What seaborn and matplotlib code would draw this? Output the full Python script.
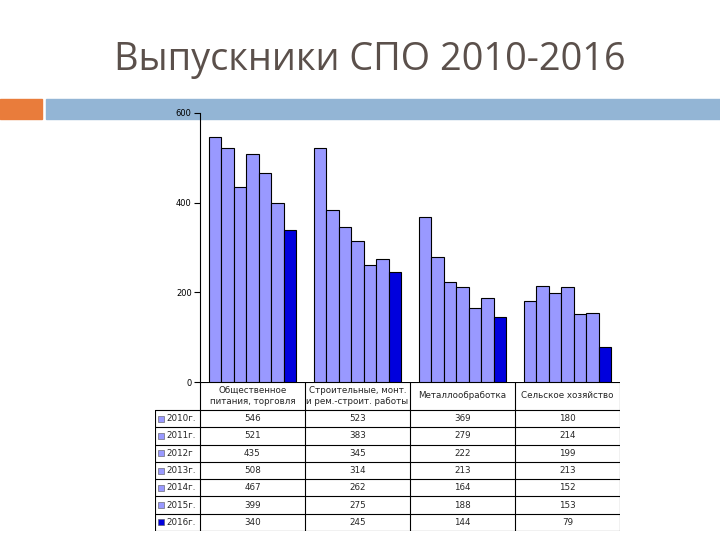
import matplotlib
matplotlib.use("Agg")
import matplotlib.pyplot as plt
import seaborn as sns
import pandas as pd
from matplotlib.patches import Rectangle

categories = ["Общественное\nпитания, торговля",
              "Строительные, монт.\nи рем.-строит. работы",
              "Металлообработка",
              "Сельское хозяйство"]
years = ["2010г.", "2011г.", "2012г", "2013г.", "2014г.", "2015г.", "2016г."]
v2010 = [546, 523, 369, 180]
v2011 = [521, 383, 279, 214]
v2012 = [435, 345, 222, 199]
v2013 = [508, 314, 213, 213]
v2014 = [467, 262, 164, 152]
v2015 = [399, 275, 188, 153]
v2016 = [340, 245, 144, 79]
series = [v2010, v2011, v2012, v2013, v2014, v2015, v2016]
yticks = [0, 200, 400, 600]

light = "#9999FF"
dark = "#0000DD"
palette = [light] * 6 + [dark]

rows = []
for y, vals in zip(years, series):
    for c, v in zip(categories, vals):
        rows.append({"cat": c, "year": y, "value": v})
df = pd.DataFrame(rows)

sns.set_theme(style="white")
plt.rcParams['font.family'] = ['DejaVu Sans']

W, H = 720, 540
fig = plt.figure(figsize=(7.2, 5.4), dpi=100)

def fx(px):
    return px / W

def fy(py):
    return 1 - py / H

# decorative header bands
fig.patches.append(Rectangle((fx(0), fy(119)), fx(42), 20 / H, transform=fig.transFigure,
                             color="#E97C3B", zorder=0))
fig.patches.append(Rectangle((fx(46), fy(119)), fx(720 - 46), 20 / H, transform=fig.transFigure,
                             color="#93B5D5", zorder=0))
fig.text(0.5 + fx(10), fy(60), "Выпускники СПО 2010-2016", ha="center", va="center",
         fontsize=27.3, color="#5B504B", family=["Open Sans", "DejaVu Sans"])

# chart axes
x0, x1 = 200, 620
ytop, ybot = 113, 382
ax = fig.add_axes([fx(x0), fy(ybot), fx(x1 - x0), (ybot - ytop) / H])
ax.set_zorder(3)
ax.patch.set_alpha(0)
sns.barplot(data=df, x="cat", y="value", hue="year", palette=palette, ax=ax,
            order=categories, hue_order=years, width=0.83, edgecolor="black",
            linewidth=0.8, legend=False, saturation=1)
ax.set_ylim(0, 600)
ax.set_xlim(-0.5, len(categories) - 0.5)
ax.set_yticks(yticks)
ax.set_yticklabels([str(t) for t in yticks], fontsize=6, color="black")
ax.set_xticks([])
ax.set_xlabel("")
ax.set_ylabel("")
for s in ["top", "right", "bottom"]:
    ax.spines[s].set_visible(False)
ax.spines["left"].set_color("black")
ax.spines["left"].set_linewidth(0.8)
ax.tick_params(axis="y", left=True, length=4, width=0.8, color="black", pad=2, direction="out")

# data table
tx0, tx1 = 155, 620
ty0, thead, ty1 = 382, 410, 531
tab = fig.add_axes([fx(tx0), fy(ty1), fx(tx1 - tx0), (ty1 - ty0) / H])
tab.set_xlim(tx0, tx1)
tab.set_ylim(ty1, ty0)
tab.axis("off")
colw = (x1 - x0) / len(categories)
rowh = (ty1 - thead) / len(years)
lw = 0.8
tab.plot([x0, x1], [ty0, ty0], color="black", lw=lw)
tab.plot([tx0, x1], [thead, thead], color="black", lw=lw)
tab.plot([tx0, x1], [ty1, ty1], color="black", lw=lw)
tab.plot([tx0, tx0], [thead, ty1], color="black", lw=lw)
for i in range(len(categories) + 1):
    xx = x0 + i * colw
    tab.plot([xx, xx], [ty0, ty1], color="black", lw=lw)
for j in range(1, len(years)):
    yy = thead + j * rowh
    tab.plot([tx0, x1], [yy, yy], color="black", lw=lw)
for i, c in enumerate(categories):
    tab.text(x0 + (i + 0.5) * colw, (ty0 + thead) / 2, c, ha="center", va="center",
             fontsize=6.3, linespacing=1.3)
for j, (y, vals) in enumerate(zip(years, series)):
    yc = thead + (j + 0.5) * rowh
    tab.add_patch(Rectangle((158, yc - 3), 6, 6, facecolor=palette[j], edgecolor="#555555", lw=0.4))
    tab.text(166, yc, y, ha="left", va="center", fontsize=6.3)
    for i, v in enumerate(vals):
        tab.text(x0 + (i + 0.5) * colw, yc, str(v), ha="center", va="center", fontsize=6.3)

fig.savefig("out.png", dpi=100)
